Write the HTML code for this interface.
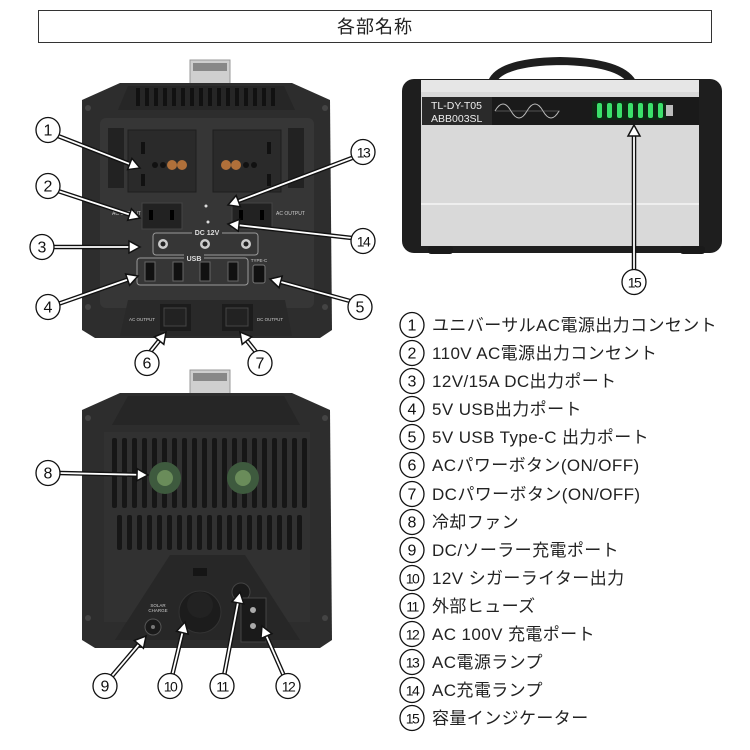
<!DOCTYPE html>
<html><head><meta charset="utf-8"><style>
body{margin:0;background:#fff;}
svg{display:block;font-family:"Liberation Sans","Noto Sans CJK JP",sans-serif;}
.lg{font-size:17px;fill:#222;letter-spacing:0.4px;}
</style></head><body>
<svg id="s" width="750" height="750" viewBox="0 0 750 750" xmlns="http://www.w3.org/2000/svg">
<rect x="38.5" y="10.5" width="673" height="32" fill="#fff" stroke="#333"/>
<text x="375" y="33" font-size="18" text-anchor="middle" fill="#222" letter-spacing="1">各部名称</text>

<!-- FRONT DEVICE -->
<rect x="190" y="60" width="40" height="26" fill="#cfcfcf" stroke="#999"/>
<rect x="193" y="63" width="34" height="8" fill="#888"/>
<polygon points="120,83 292,83 330,100 332,330 320,338 95,338 82,330 82,100" fill="#2d2d2d"/>
<polygon points="128,86 284,86 295,110 118,110" fill="#262626"/>
<g id="ribs"></g>
<rect x="100" y="118" width="214" height="190" rx="6" fill="#363636"/>
<rect x="108" y="128" width="16" height="60" fill="#222"/>
<rect x="288" y="128" width="16" height="60" fill="#222"/>
<rect x="128" y="130" width="68" height="62" fill="#2a2a2a" stroke="#1e1e1e"/>
<rect x="213" y="130" width="68" height="62" fill="#2a2a2a" stroke="#1e1e1e"/>
<rect x="141" y="142" width="4" height="12" fill="#111"/><rect x="141" y="174" width="4" height="12" fill="#111"/>
<rect x="267" y="142" width="4" height="12" fill="#111"/><rect x="267" y="174" width="4" height="12" fill="#111"/>
<circle cx="155" cy="165" r="3" fill="#111"/><circle cx="163" cy="165" r="3" fill="#111"/>
<circle cx="172" cy="165" r="5" fill="#b0703a"/><circle cx="182" cy="165" r="5" fill="#b0703a"/>
<circle cx="254" cy="165" r="3" fill="#111"/><circle cx="246" cy="165" r="3" fill="#111"/>
<circle cx="236" cy="165" r="5" fill="#b0703a"/><circle cx="226" cy="165" r="5" fill="#b0703a"/>
<rect x="142" y="203" width="40" height="26" fill="#222" stroke="#444"/>
<rect x="149" y="210" width="4" height="10" fill="#000"/><rect x="170" y="210" width="4" height="10" fill="#000"/>
<rect x="232" y="203" width="40" height="26" fill="#222" stroke="#444"/>
<rect x="239" y="210" width="4" height="10" fill="#000"/><rect x="260" y="210" width="4" height="10" fill="#000"/>
<text x="112" y="215" font-size="5" fill="#ccc">AC OUTPUT</text>
<text x="276" y="215" font-size="5" fill="#ccc">AC OUTPUT</text>
<circle cx="206" cy="206" r="1.5" fill="#ddd"/><circle cx="208" cy="222" r="1.5" fill="#ddd"/>
<rect x="153" y="233" width="105" height="22" rx="3" fill="none" stroke="#999"/>
<rect x="192" y="228" width="30" height="8" fill="#363636"/>
<text x="207" y="235" font-size="7" fill="#ddd" text-anchor="middle" font-weight="bold">DC 12V</text>
<circle cx="163" cy="244" r="5" fill="#ccc"/><circle cx="163" cy="244" r="2.5" fill="#222"/>
<circle cx="205" cy="244" r="5" fill="#ccc"/><circle cx="205" cy="244" r="2.5" fill="#222"/>
<circle cx="246" cy="244" r="5" fill="#ccc"/><circle cx="246" cy="244" r="2.5" fill="#222"/>
<rect x="137" y="258" width="111" height="27" rx="3" fill="none" stroke="#999"/>
<rect x="184" y="254" width="20" height="8" fill="#363636"/>
<text x="194" y="261" font-size="7" fill="#ddd" text-anchor="middle" font-weight="bold">USB</text>
<rect x="145" y="262" width="10" height="19" fill="#111" stroke="#666"/>
<rect x="173" y="262" width="10" height="19" fill="#111" stroke="#666"/>
<rect x="200" y="262" width="10" height="19" fill="#111" stroke="#666"/>
<rect x="228" y="262" width="10" height="19" fill="#111" stroke="#666"/>
<rect x="253" y="265" width="12" height="18" rx="2" fill="#111" stroke="#777"/>
<text x="259" y="262" font-size="4.5" fill="#ccc" text-anchor="middle">TYPE-C</text>
<polygon points="128,300 285,300 292,336 120,336" fill="#292929"/>
<rect x="160" y="304" width="31" height="27" fill="#1c1c1c"/>
<rect x="164" y="308" width="22" height="18" fill="#222" stroke="#444"/>
<rect x="222" y="304" width="31" height="27" fill="#1c1c1c"/>
<rect x="226" y="308" width="22" height="18" fill="#222" stroke="#444"/>
<text x="142" y="321" font-size="4.5" fill="#ccc" text-anchor="middle">AC OUTPUT</text>
<text x="270" y="321" font-size="4.5" fill="#ccc" text-anchor="middle">DC OUTPUT</text>
<circle cx="88" cy="108" r="3" fill="#444"/><circle cx="325" cy="108" r="3" fill="#444"/>
<circle cx="88" cy="307" r="3" fill="#444"/><circle cx="325" cy="307" r="3" fill="#444"/>

<!-- BACK DEVICE -->
<rect x="190" y="370" width="40" height="26" fill="#cfcfcf" stroke="#999"/>
<rect x="193" y="373" width="34" height="8" fill="#888"/>
<polygon points="120,393 292,393 330,410 332,640 320,648 95,648 82,640 82,410" fill="#2d2d2d"/>
<polygon points="128,396 284,396 300,425 112,425" fill="#262626"/>
<rect x="104" y="432" width="206" height="190" fill="#313131"/>
<g id="vents"></g>
<circle cx="165" cy="478" r="16" fill="#3e5a3e"/><circle cx="165" cy="478" r="8" fill="#6a8c5a"/>
<circle cx="243" cy="478" r="16" fill="#3e5a3e"/><circle cx="243" cy="478" r="8" fill="#6a8c5a"/>
<polygon points="170,555 245,555 300,640 115,640" fill="#272727"/>
<circle cx="200" cy="612" r="21" fill="#1c1c1c" stroke="#333"/>
<circle cx="200" cy="605" r="13" fill="#222"/>
<rect x="193" y="568" width="14" height="8" fill="#151515"/>
<circle cx="241" cy="592" r="9" fill="#1a1a1a" stroke="#444"/>
<rect x="241" y="598" width="25" height="44" fill="#1a1a1a" stroke="#444"/>
<circle cx="253" cy="610" r="3" fill="#aaa"/><circle cx="253" cy="626" r="3" fill="#aaa"/>
<circle cx="153" cy="627" r="8" fill="#1a1a1a" stroke="#555"/>
<circle cx="153" cy="627" r="2" fill="#777"/>
<text x="158" y="607" font-size="4.5" fill="#ccc" text-anchor="middle">SOLAR</text>
<text x="158" y="612" font-size="4.5" fill="#ccc" text-anchor="middle">CHARGE</text>
<circle cx="88" cy="418" r="3" fill="#444"/><circle cx="325" cy="418" r="3" fill="#444"/>
<circle cx="88" cy="618" r="3" fill="#444"/><circle cx="325" cy="618" r="3" fill="#444"/>

<!-- SIDE DEVICE -->
<path d="M492,82 Q500,62 560,61 Q620,62 632,82" fill="none" stroke="#1e1e1e" stroke-width="8"/>
<rect x="402" y="79" width="320" height="174" rx="12" fill="#1e1e1e"/>
<rect x="421" y="80" width="278" height="166" fill="#d9d9d9"/>
<rect x="421" y="80" width="278" height="12" fill="#e6e6e6"/>
<rect x="421" y="203" width="278" height="2" fill="#eee"/>
<rect x="422" y="97" width="277" height="28" fill="#1a1a1a"/>
<rect x="422" y="97" width="70" height="28" fill="#2a2a2a"/>
<text x="431" y="109" font-size="10.5" fill="#eee">TL-DY-T05</text>
<text x="431" y="122" font-size="10.5" fill="#eee">ABB003SL</text>
<path d="M495,111 q8,-14 16,0 t16,0 t16,0 t16,0" fill="none" stroke="#bbb" stroke-width="1"/>
<line x1="495" y1="111" x2="560" y2="111" stroke="#888" stroke-width="0.6"/>
<rect x="592" y="101" width="74" height="19" fill="#0d2a14"/>
<g fill="#3be06a"><rect x="597" y="103" width="5" height="15" rx="2"/><rect x="607" y="103" width="5" height="15" rx="2"/><rect x="617" y="103" width="5" height="15" rx="2"/><rect x="628" y="103" width="5" height="15" rx="2"/><rect x="638" y="103" width="5" height="15" rx="2"/><rect x="648" y="103" width="5" height="15" rx="2"/><rect x="658" y="103" width="5" height="15" rx="2"/></g>
<rect x="666" y="105" width="7" height="11" fill="#bbb"/>
<rect x="428" y="246" width="25" height="8" rx="3" fill="#1a1a1a"/>
<rect x="680" y="246" width="25" height="8" rx="3" fill="#1a1a1a"/>

<g id="arrows"></g>
<g id="calls"></g>

<g id="legend"></g>
<text class="lg" x="432" y="331">ユニバーサルAC電源出力コンセント</text>
<text class="lg" x="432" y="359">110V AC電源出力コンセント</text>
<text class="lg" x="432" y="387">12V/15A DC出力ポート</text>
<text class="lg" x="432" y="415">5V USB出力ポート</text>
<text class="lg" x="432" y="443">5V USB Type-C 出力ポート</text>
<text class="lg" x="432" y="471">ACパワーボタン(ON/OFF)</text>
<text class="lg" x="432" y="500">DCパワーボタン(ON/OFF)</text>
<text class="lg" x="432" y="528">冷却ファン</text>
<text class="lg" x="432" y="556">DC/ソーラー充電ポート</text>
<text class="lg" x="432" y="584">12V シガーライター出力</text>
<text class="lg" x="432" y="612">外部ヒューズ</text>
<text class="lg" x="432" y="640">AC 100V 充電ポート</text>
<text class="lg" x="432" y="668">AC電源ランプ</text>
<text class="lg" x="432" y="696">AC充電ランプ</text>
<text class="lg" x="432" y="724">容量インジケーター</text>
</svg>
<script>
var NS="http://www.w3.org/2000/svg";
function el(p,t,a,txt){var e=document.createElementNS(NS,t);for(var k in a)e.setAttribute(k,a[k]);if(txt)e.textContent=txt;document.getElementById(p).appendChild(e);return e;}
for(var x=136;x<280;x+=9)el("ribs","rect",{x:x,y:88,width:4,height:18,fill:"#111"});
for(var x=112;x<305;x+=10){el("vents","rect",{x:x,y:438,width:5,height:70,rx:2,fill:"#161616"});}
for(var x=117;x<300;x+=10){el("vents","rect",{x:x,y:515,width:5,height:35,rx:2,fill:"#161616"});}
function arrow(x1,y1,x2,y2){var dx=x2-x1,dy=y2-y1,L=Math.hypot(dx,dy),ux=dx/L,uy=dy/L;var bx=x2-ux*11,by=y2-uy*11,px=-uy,py=ux;
el("arrows","line",{x1:x1,y1:y1,x2:bx,y2:by,stroke:"#111","stroke-width":4.5});
el("arrows","line",{x1:x1,y1:y1,x2:bx+ux,y2:by+uy,stroke:"#fff","stroke-width":1.8});
el("arrows","polygon",{points:x2+","+y2+" "+(bx+px*6)+","+(by+py*6)+" "+(bx-px*6)+","+(by-py*6),fill:"#fff",stroke:"#111","stroke-width":1.5});}
function call(g,cx,cy,n){el(g,"ellipse",{cx:cx,cy:cy,rx:12,ry:12.5,fill:"#fff",stroke:"#111","stroke-width":1.3});
var t=el(g,"text",{x:cx,y:cy+5.5,"font-size":n>9?14:16,"text-anchor":"middle",fill:"#111"},String(n));if(n>9)t.setAttribute("letter-spacing","-1.5");}
var A=[[58,136,140,168],[58,191,140,218],[54,247,140,247],[352,158,228,205],[352,238,228,224],[58,304,138,276],[350,301,270,279],[150,352,166,332],[256,352,240,332],[60,473,148,475],[112,676,146,636],[172,676,185,622],[224,676,240,592],[284,676,262,626],[634,270,634,125]];
A.forEach(function(a){arrow.apply(null,a)});
var C=[[48,130,1],[48,186,2],[42,247,3],[48,307,4],[360,307,5],[147,363,6],[260,363,7],[48,473,8],[105,686,9],[170,686,10],[222,686,11],[288,686,12],[363,152,13],[363,241,14],[634,282,15]];
C.forEach(function(c){call("calls",c[0],c[1],c[2])});
for(var i=0;i<15;i++){var y=[325,353,381,409,437,465,494,522,550,578,606,634,662,690,718][i];call("legend",412,y,i+1);}
</script>
</body></html>
